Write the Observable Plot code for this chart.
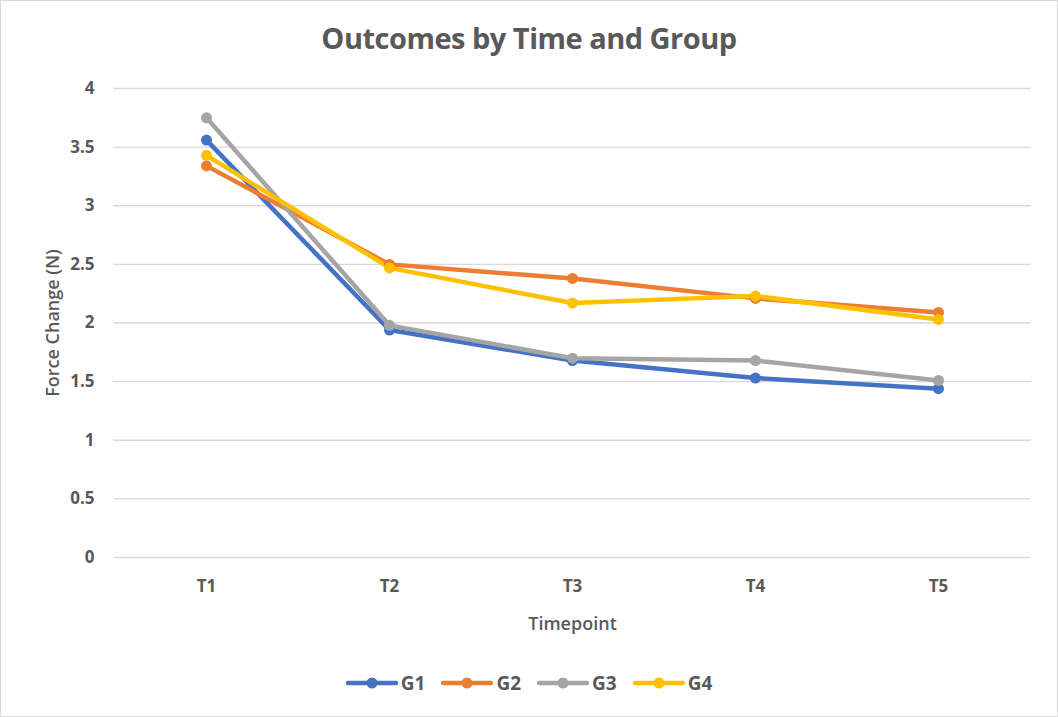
<!DOCTYPE html>
<html>
<head>
<meta charset="utf-8">
<script src="https://cdn.jsdelivr.net/npm/d3@7"></script>
<script src="https://cdn.jsdelivr.net/npm/@observablehq/plot@0.6"></script>
<style>
  html, body { margin: 0; padding: 0; background: #fff; }
  #chart {
    position: relative; width: 1056px; height: 715px;
    border: 1px solid #d9d9d9; background: #fff;
    font-family: "Open Sans", sans-serif; color: #595959;
  }
  #title {
    position: absolute; top: 17px; left: 0; width: 100%; text-align: center;
    font-size: 29px; font-weight: 700; letter-spacing: -0.5px;
  }
  #plot { position: absolute; top: 74px; left: 0; }
  #legend {
    position: absolute; top: 669px; left: 0; width: 100%;
    display: flex; justify-content: center; gap: 16px;
    font-size: 19px; font-weight: 700;
  }
  .item { display: flex; align-items: center; gap: 3px; }
  #plot svg g[aria-label="y-axis tick label"], #plot svg g[aria-label="x-axis tick label"] {
    font-size: 17px; font-weight: 700;
  }
  #plot svg g[aria-label="y-axis label"], #plot svg g[aria-label="x-axis label"] {
    font-size: 18px; font-weight: 600;
  }
</style>
</head>
<body>
<div id="chart">
  <div id="title">Outcomes by Time and Group</div>
  <div id="plot"></div>
  <div id="legend"></div>
</div>
<script>
const timepoints = ["T1", "T2", "T3", "T4", "T5"];
const groups = ["G1", "G2", "G3", "G4"];
const colors = ["#4472C4", "#ED7D31", "#A5A5A5", "#FFC000"];
const g1 = [3.56, 1.94, 1.68, 1.53, 1.44];
const g2 = [3.34, 2.50, 2.38, 2.21, 2.09];
const g3 = [3.75, 1.98, 1.70, 1.68, 1.51];
const g4 = [3.43, 2.47, 2.17, 2.23, 2.03];
const yTicks = [0, 0.5, 1, 1.5, 2, 2.5, 3, 3.5, 4];

const series = [g1, g2, g3, g4];
const data = [];
groups.forEach((g, gi) => timepoints.forEach((t, ti) => data.push({group: g, time: t, value: series[gi][ti]})));

const plot = Plot.plot({
  width: 1056,
  height: 576,
  marginLeft: 112,
  marginRight: 26,
  marginTop: 13,
  marginBottom: 94,
  style: {fontFamily: "Open Sans, sans-serif", color: "#595959", background: "transparent"},
  x: {type: "point", domain: timepoints, padding: 0.5, label: null},
  y: {domain: [0, 4], label: null},
  color: {domain: groups, range: colors},
  marks: [
    Plot.gridY(yTicks, {stroke: "#d9d9d9", strokeOpacity: 1, strokeWidth: 1.3}),
    Plot.axisY(yTicks, {tickSize: 0, tickPadding: 19, tickFormat: d => String(d),
      label: "Force Change (N)", labelAnchor: "center", labelOffset: 67, labelArrow: "none"}),
    Plot.axisX({tickSize: 0, tickPadding: 22,
      label: "Timepoint", labelAnchor: "center", labelOffset: 72, labelArrow: "none"}),
    Plot.lineY(data, {x: "time", y: "value", z: "group", stroke: "group", strokeWidth: 4.5}),
    Plot.dot(data, {x: "time", y: "value", fill: "group", r: 5.5})
  ]
});
document.getElementById("plot").appendChild(plot);

const legend = document.getElementById("legend");
groups.forEach((g, i) => {
  const item = document.createElement("div");
  item.className = "item";
  item.innerHTML = `<svg width="52" height="16"><line x1="2" y1="8" x2="50" y2="8" stroke="${colors[i]}" stroke-width="4.5" stroke-linecap="round"/><circle cx="26" cy="8" r="5.5" fill="${colors[i]}"/></svg><span>${g}</span>`;
  legend.appendChild(item);
});
</script>
</body>
</html>
